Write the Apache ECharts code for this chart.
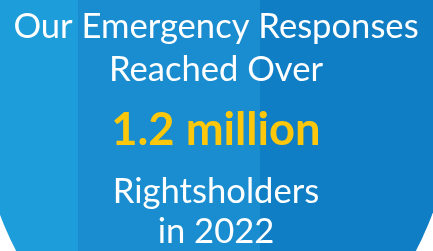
<!DOCTYPE html>
<html><head><meta charset="utf-8">
<style>html,body{margin:0;padding:0;background:#fff}#c{width:433px;height:251px}</style>
<script src="https://cdn.jsdelivr.net/npm/echarts@6/dist/echarts.min.js"></script>
</head><body><div id="c"></div>
<script>
const headlineLines = ["Our Emergency Responses", "Reached Over"];
const figureText = ["1.2 million"];
const footerLines = ["Rightsholders", "in 2022"];

const chart = echarts.init(document.getElementById('c'), null, {renderer: 'canvas'});
const cx = 216, cy = 81, rx = 240, ry = 307;
const s1 = (78 - cx + rx) / (2 * rx), s2 = (260 - cx + rx) / (2 * rx);
const white = '#ffffff', yellow = '#fdc70c';
const texts = [];
const mk = (t, baseline, size, color, weight) => ({
  type: 'text', x: cx, y: baseline - 0.82 * size,
  style: {text: t, fill: color, font: weight + ' ' + size + 'px Lato', textAlign: 'center', textVerticalAlign: 'top', verticalAlign: 'top'}
});
texts.push(mk(headlineLines[0], 37.5, 34.6, white, 'normal'));
texts.push(mk(headlineLines[1], 81, 34.6, white, 'normal'));
texts.push(mk(figureText[0], 145, 45.3, yellow, 'bold'));
texts.push(mk(footerLines[0], 203, 34.6, white, 'normal'));
texts.push(mk(footerLines[1], 243, 34.6, white, 'normal'));

chart.setOption({
  animation: false,
  graphic: [{
    type: 'circle', x: cx, y: cy, scaleY: ry / rx, shape: {cx: 0, cy: 0, r: rx},
    style: {fill: new echarts.graphic.LinearGradient(0, 0, 1, 0, [
      {offset: 0, color: '#1d9dd9'}, {offset: s1, color: '#1d9dd9'},
      {offset: s1, color: '#198dcf'}, {offset: s2, color: '#198dcf'},
      {offset: s2, color: '#107ec4'}, {offset: 1, color: '#107ec4'}
    ])}
  }].concat(texts)
});
</script></body></html>
